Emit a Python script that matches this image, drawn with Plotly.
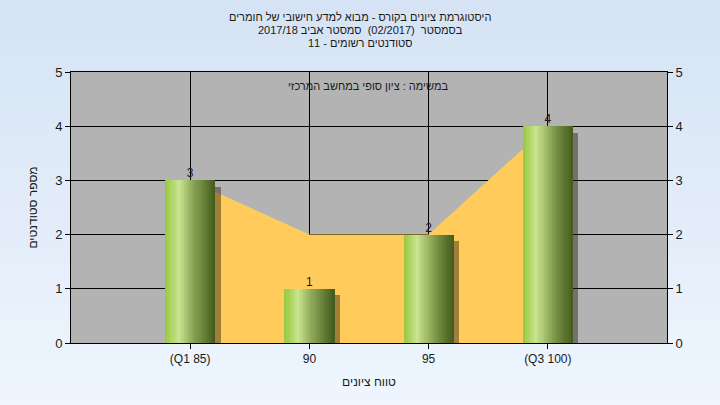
import plotly.graph_objects as go

# ---- data ----
categories = ["(Q1 85)", "90", "95", "(Q3 100)"]
counts = [3, 1, 2, 4]
area_values = [3, 2, 2, 4]
title_lines = [
    "היסטוגרמת ציונים בקורס - מבוא למדע חישובי של חומרים",
    "בסמסטר  (02/2017)  סמסטר אביב 2017/18",
    "סטודנטים רשומים - 11",
]
subtitle_in_plot = "במשימה : ציון סופי במחשב המרכזי"
x_title = "טווח ציונים"
y_title = "מספר סטודנטים"

positions = list(range(len(categories)))
FONT = "Liberation Sans, Arial, DejaVu Sans, sans-serif"
TXT = "#1a1a1a"

fig = go.Figure()

# area behind bars (main subplot, drawn first)
fig.add_trace(go.Scatter(
    x=positions, y=area_values, mode="lines", fill="tozeroy",
    fillcolor="#FFCC5C", line=dict(width=0, color="#FFCC5C"),
    hoverinfo="skip", showlegend=False))

# bar shadow (overlay subplot, above area)
bar_w = 0.42
fig.add_trace(go.Bar(
    x=positions, y=counts, base=-0.12, width=bar_w, offset=-bar_w / 2 + 0.045,
    marker=dict(color="rgba(45,35,15,0.45)", line=dict(width=0)),
    yaxis="y2", hoverinfo="skip", showlegend=False))

# gradient bars built from vertical slices
stops = [(0.0, (150, 200, 62)), (0.27, (202, 228, 145)), (0.6, (130, 158, 78)), (1.0, (66, 90, 28))]


def grad(t):
    for (t0, c0), (t1, c1) in zip(stops[:-1], stops[1:]):
        if t <= t1:
            f = (t - t0) / (t1 - t0)
            return "rgb(%d,%d,%d)" % tuple(round(a + (b - a) * f) for a, b in zip(c0, c1))
    return "rgb(%d,%d,%d)" % stops[-1][1]


n_slices = 24
sw = bar_w / n_slices
for i in range(n_slices):
    fig.add_trace(go.Bar(
        x=positions, y=counts, width=sw * 1.05, offset=-bar_w / 2 + i * sw,
        marker=dict(color=grad((i + 0.5) / n_slices), line=dict(width=0)),
        yaxis="y2", hoverinfo="skip", showlegend=False))

# value labels
fig.add_trace(go.Scatter(
    x=positions, y=counts, mode="text", text=[str(v) for v in counts],
    textposition="top center", textfont=dict(family=FONT, size=12, color=TXT),
    yaxis="y2", hoverinfo="skip", showlegend=False, cliponaxis=False))

# background gradient bands (paper)
shapes = []
n_bands = 30
top_c = (213, 227, 244)
bot_c = (239, 246, 254)
for i in range(n_bands):
    f = i / (n_bands - 1)
    c = tuple(round(a + (b - a) * f) for a, b in zip(top_c, bot_c))
    shapes.append(dict(type="rect", xref="paper", yref="paper",
                       x0=-0.2, x1=1.2,
                       y0=1.27 - (i + 1) * (1.54 / n_bands) - 0.005,
                       y1=1.27 - i * (1.54 / n_bands),
                       fillcolor="rgb(%d,%d,%d)" % c, line=dict(width=0), layer="below"))
shapes.append(dict(type="rect", xref="x domain", yref="y domain", x0=0, x1=1, y0=0, y1=1,
                   fillcolor="#B3B3B3", line=dict(width=0), layer="below"))

annotations = []
line_y = [17.5, 30.5, 43]
for txt, py in zip(title_lines, line_y):
    annotations.append(dict(text=txt, xref="paper", yref="paper",
                            x=(360 - 71) / 596, y=(343 - py) / 271,
                            xanchor="center", yanchor="middle", showarrow=False,
                            font=dict(family=FONT, size=11, color=TXT)))
annotations.append(dict(text=subtitle_in_plot, xref="paper", yref="paper",
                        x=(368 - 71) / 596, y=(343 - 86) / 271,
                        xanchor="center", yanchor="middle", showarrow=False,
                        font=dict(family=FONT, size=11, color=TXT)))

fig.update_layout(
    width=720, height=405,
    margin=dict(l=71, r=53, t=72, b=62),
    paper_bgcolor="#E4EEF9", plot_bgcolor="rgba(0,0,0,0)",
    barmode="overlay", bargap=0, showlegend=False,
    shapes=shapes, annotations=annotations,
    font=dict(family=FONT, size=12, color=TXT),
    xaxis=dict(range=[-1, 4], tickmode="array", tickvals=positions, ticktext=categories,
               showgrid=True, gridcolor="black", gridwidth=1, zeroline=False,
               showline=True, linecolor="black", linewidth=1, mirror=True,
               ticks="outside", ticklen=5, tickcolor="black",
               tickfont=dict(family=FONT, size=12, color=TXT),
               title=dict(text=x_title, font=dict(family=FONT, size=12, color=TXT), standoff=12)),
    yaxis=dict(range=[0, 5], dtick=1, showgrid=True, gridcolor="black", gridwidth=1,
               zeroline=False, showline=True, linecolor="black", linewidth=1,
               ticks="outside", ticklen=5, tickcolor="black",
               tickfont=dict(family=FONT, size=13, color=TXT),
               title=dict(text=y_title, font=dict(family=FONT, size=12, color=TXT), standoff=14)),
    yaxis2=dict(range=[0, 5], dtick=1, overlaying="y", side="right", showgrid=False,
                zeroline=False, showline=True, linecolor="black", linewidth=1,
                ticks="outside", ticklen=5, tickcolor="black",
                tickfont=dict(family=FONT, size=13, color=TXT)),
)

fig.write_html("out.html", config={"displayModeBar": False},
               post_script="document.body.style.margin='0';")
